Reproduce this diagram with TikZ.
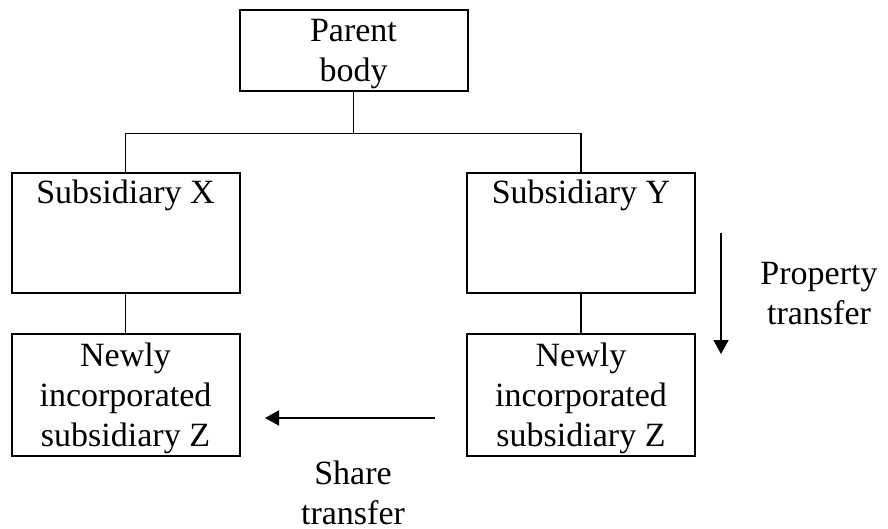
\documentclass[tikz,border=0pt]{standalone}
\usepackage{fontspec}
\setmainfont{Liberation Serif}
\usetikzlibrary{arrows.meta}
\begin{document}
\begin{tikzpicture}[x=1pt,y=-1pt,
  font=\fontsize{34}{40}\selectfont,
  box/.style={draw, line width=2pt, minimum width=228pt, inner sep=0pt},
  txt/.style={align=center, inner sep=0pt},
  conn/.style={line width=1.6pt},
  flow/.style={line width=1.7pt, -{Triangle[length=14pt,width=15pt]}},
  boxhead/.style={anchor=north, inner sep=7.5pt}]
\useasboundingbox (0,0) rectangle (888,529);

% organisation chart boxes
\node[box, minimum height=81pt] (parent) at (353.5,50.5) {};
\node[txt] (parenttxt) at (353.5,54.5) {Parent\\body};

\node[box, minimum height=120pt, label={[boxhead]north:Subsidiary X}] (subx) at (125.5,233) {};
\node[box, minimum height=120pt, label={[boxhead]north:Subsidiary Y}] (suby) at (581,233) {};

\node[box, minimum height=122pt] (newx) at (125.5,395) {};
\node[txt] (newxtxt) at (125.5,398) {Newly\\incorporated\\subsidiary Z};
\node[box, minimum height=122pt] (newy) at (581,395) {};
\node[txt] (newytxt) at (581,398) {Newly\\incorporated\\subsidiary Z};

% tree connectors
\draw[conn] (parent.south) -- ++(0,41.5) coordinate (j);
\draw[conn] (subx.north) |- (j) -| (suby.north);
\draw[conn] (subx.south) -- (newx.north);
\draw[conn] (suby.south) -- (newy.north);

% property transfer
\coordinate (pt1) at (721,233);
\coordinate (pt2) at (721,354);
\draw[flow] (pt1) -- (pt2);
\node[txt] (ptlabel) at (819,293.5) {Property\\transfer};

% share transfer
\coordinate (st1) at (435,418);
\coordinate (st2) at (265,418);
\draw[flow] (st1) -- (st2);
\node[txt] (stlabel) at (353,493) {Share\\transfer};
\end{tikzpicture}
\end{document}
